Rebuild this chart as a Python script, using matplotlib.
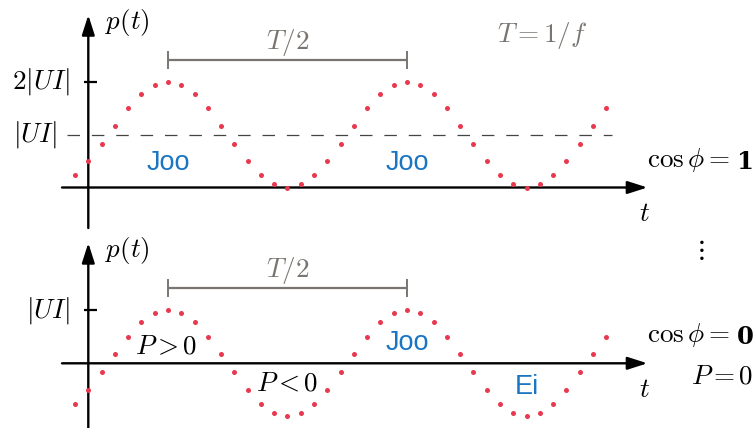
import matplotlib
matplotlib.use("Agg")
import matplotlib.pyplot as plt

plt.rcParams['mathtext.fontset'] = 'cm'
plt.rcParams['font.family'] = ['DejaVu Sans']

# ---- data ----
t = [-1, 0, 1, 2, 3, 4, 5, 6, 7, 8, 9, 10, 11, 12, 13, 14, 15, 16, 17, 18,
     19, 20, 21, 22, 23, 24, 25, 26, 27, 28, 29, 30, 31, 32, 33, 34, 35, 36,
     37, 38, 39]
p_cos1 = [0.23, 0.50, 0.83, 1.17, 1.50, 1.77, 1.94, 2.00, 1.94, 1.77, 1.50, 1.17,
          0.83, 0.50, 0.23, 0.06, 0.00, 0.06,
          0.23, 0.50, 0.83, 1.17, 1.50, 1.77, 1.94, 2.00, 1.94, 1.77, 1.50, 1.17,
          0.83, 0.50, 0.23, 0.06, 0.00, 0.06,
          0.23, 0.50, 0.83, 1.17, 1.50]
p_cos0 = [-0.77, -0.50, -0.17, 0.17, 0.50, 0.77, 0.94, 1.00, 0.94, 0.77, 0.50, 0.17,
          -0.17, -0.50, -0.77, -0.94, -1.00, -0.94,
          -0.77, -0.50, -0.17, 0.17, 0.50, 0.77, 0.94, 1.00, 0.94, 0.77, 0.50, 0.17,
          -0.17, -0.50, -0.77, -0.94, -1.00, -0.94,
          -0.77, -0.50, -0.17, 0.17, 0.50]
half_period = (6, 24)          # T/2 bracket between the peaks
top_ticks = [(2, r'$2|UI|$')]
bot_ticks = [(1, r'$|UI|$')]

RED = '#e8394f'
BLUE = '#1a75c2'
GRAY = '#7a7570'
FS = 19.5
FS_SANS = 19.5

fig = plt.figure(figsize=(7.54, 4.28), dpi=100)
# top axes: pixel rows 0..228, bottom axes: rows 228..428
ax1 = fig.add_axes([0, 1 - 228 / 428, 1, 228 / 428])
ax2 = fig.add_axes([0, 0, 1, 200 / 428])
xlim = (-88.3 / 13.28, (754 - 88.3) / 13.28)
ax1.set_xlim(*xlim)
ax2.set_xlim(*xlim)
ax1.set_ylim((187.5 - 228) / 52.9, 187.5 / 52.9)
ax2.set_ylim((363.3 - 428) / 53.0, (363.3 - 228) / 53.0)
for ax in (ax1, ax2):
    ax.axis('off')

arrow_kw = dict(arrowstyle='-|>,head_length=1.0,head_width=0.32', lw=1.7,
                color='black', shrinkA=0, shrinkB=0, mutation_scale=12)


def draw_axes(ax, ybot, ytop, ticks):
    ax.annotate('', xy=(42.1, 0), xytext=(-1.98, 0), arrowprops=arrow_kw,
                annotation_clip=False)
    ax.annotate('', xy=(0, ytop), xytext=(0, ybot), arrowprops=arrow_kw,
                annotation_clip=False)
    for val, lab in ticks:
        ax.plot([-0.32, 0.62], [val, val], color='black', lw=1.6,
                solid_capstyle='butt')
        ax.text(-1.38, val, lab, ha='right', va='center', fontsize=FS)
    ax.text(1.25, ytop - 0.14, r'$p(t)$', ha='left', va='center', fontsize=FS)
    ax.text(41.85, -0.5, r'$t$', ha='center', va='center', fontsize=FS)


def draw_bracket(ax, yb, ylab):
    a, b = half_period
    ax.plot([a, b], [yb, yb], color=GRAY, lw=1.6, solid_capstyle='butt')
    for xx in (a, b):
        ax.plot([xx, xx], [yb - 0.15, yb + 0.15], color=GRAY, lw=1.4)
    ax.text((a + b) / 2, ylab, r'$T/2$', ha='center', va='center',
            fontsize=FS, color=GRAY)


def cos_label(ax, y, val):
    txt = ax.text(42.1, y, r'$\cos\phi =$', ha='left', va='baseline',
                  fontsize=FS)
    ax.annotate(val, xy=(1, 0), xycoords=txt, xytext=(5, 0),
                textcoords='offset points', ha='left', va='bottom',
                fontsize=FS - 2, fontweight='bold', family='DejaVu Serif',
                annotation_clip=False)


# ---------------- top panel: cos phi = 1 ----------------
draw_axes(ax1, (187.5 - 228) / 52.9, 3.26, top_ticks)
ax1.plot([-1.6, 39.4], [1, 1], color='#444444', lw=0.9, dashes=(10, 9.5))
ax1.text(-2.36, 1, r'$|UI|$', ha='right', va='center', fontsize=FS)
ax1.plot(t, p_cos1, 'o', color=RED, ms=3.6, mec='none', zorder=3)
draw_bracket(ax1, 2.41, 2.74)
ax1.text(30.75, 2.88, r'$T = 1/f$', ha='left', va='center', fontsize=FS,
         color=GRAY)
for xx in (6, 24):
    ax1.text(xx, 0.46, 'Joo', ha='center', va='center', fontsize=FS_SANS,
             color=BLUE, family='Liberation Sans')
cos_label(ax1, 0.39, '1')

# ---------------- bottom panel: cos phi = 0 ----------------
draw_axes(ax2, -1.3, 2.27, bot_ticks)
ax2.plot(t, p_cos0, 'o', color=RED, ms=3.6, mec='none', zorder=3)
draw_bracket(ax2, 1.415, 1.76)
ax2.text(5.9, 0.31, r'$P > 0$', ha='center', va='center', fontsize=FS)
ax2.text(14.94, -0.38, r'$P < 0$', ha='center', va='center', fontsize=FS)
ax2.text(24, 0.38, 'Joo', ha='center', va='center', fontsize=FS_SANS,
         color=BLUE, family='Liberation Sans')
ax2.text(33.0, -0.44, 'Ei', ha='center', va='center', fontsize=FS_SANS,
         color=BLUE, family='Liberation Sans')
cos_label(ax2, 0.40, '0')
ax2.text(45.4, -0.25, r'$P = 0$', ha='left', va='center', fontsize=FS)
ax2.text(46.0, 2.14, r'$\vdots$', ha='center', va='center', fontsize=FS)

fig.savefig('out.png', dpi=100)
